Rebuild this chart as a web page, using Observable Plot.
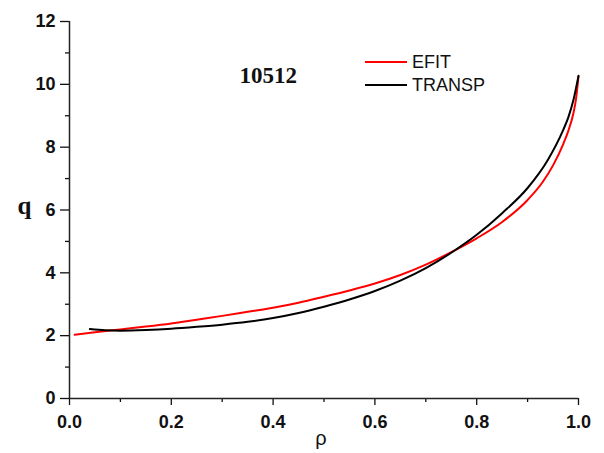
<!DOCTYPE html>
<html>
<head>
<meta charset="utf-8">
<script src="https://cdn.jsdelivr.net/npm/d3@7"></script>
<script src="https://cdn.jsdelivr.net/npm/@observablehq/plot@0.6"></script>
<style>
  html, body { margin: 0; padding: 0; background: #fff; }
</style>
</head>
<body>
<div id="chart"></div>
<script>
// EFIT (red) q-profile
const efitRho = [0.01, 0.05, 0.1, 0.15, 0.2, 0.25, 0.3, 0.35, 0.4, 0.45, 0.5, 0.55, 0.6, 0.65, 0.7, 0.75, 0.8, 0.85, 0.9, 0.93, 0.95, 0.97, 0.98, 0.99, 0.995, 1.0];
const efitQ   = [2.03, 2.11, 2.20, 2.29, 2.39, 2.51, 2.63, 2.76, 2.89, 3.05, 3.24, 3.44, 3.66, 3.93, 4.26, 4.66, 5.10, 5.62, 6.32, 6.90, 7.42, 8.10, 8.52, 9.08, 9.52, 10.25];
// TRANSP (black) q-profile
const transpRho = [0.04, 0.07, 0.1, 0.15, 0.2, 0.25, 0.3, 0.35, 0.4, 0.45, 0.5, 0.55, 0.6, 0.65, 0.7, 0.75, 0.8, 0.85, 0.9, 0.94, 0.97, 0.98, 0.99, 1.0];
const transpQ   = [2.21, 2.17, 2.16, 2.18, 2.22, 2.28, 2.35, 2.44, 2.56, 2.72, 2.92, 3.15, 3.42, 3.75, 4.15, 4.64, 5.21, 5.90, 6.70, 7.60, 8.55, 8.95, 9.50, 10.27];

const seriesNames = ["EFIT", "TRANSP"];
const seriesColors = ["#ff0000", "#000000"];
const xTicks = [0, 0.2, 0.4, 0.6, 0.8, 1.0];
const xMinorTicks = [0.1, 0.3, 0.5, 0.7, 0.9];
const yTicks = [0, 2, 4, 6, 8, 10, 12];
const yMinorTicks = [1, 3, 5, 7, 9, 11];
const titleText = "10512";
const xLabel = "ρ";
const yLabel = "q";

const efit = efitRho.map((r, i) => ({rho: r, q: efitQ[i], series: "EFIT"}));
const transp = transpRho.map((r, i) => ({rho: r, q: transpQ[i], series: "TRANSP"}));

const tickFont = {fontSize: 18, fontWeight: "bold", fill: "#111"};

const chart = Plot.plot({
  width: 604,
  height: 453,
  marginLeft: 69,
  marginRight: 26,
  marginTop: 21,
  marginBottom: 55,
  style: {fontFamily: "Arial, 'Liberation Sans', sans-serif", background: "#fff", color: "#111"},
  x: {domain: [0, 1]},
  y: {domain: [0, 12]},
  marks: [
    Plot.axisX({ticks: xTicks, tickSize: 7, tickPadding: 10, tickFormat: d3.format(".1f"), label: null, strokeWidth: 1.3, ...tickFont}),
    Plot.axisX({ticks: xMinorTicks, tickSize: 4, tickFormat: () => null, label: null, strokeWidth: 1.3}),
    Plot.axisY({ticks: yTicks, tickSize: 9, tickPadding: 5, tickFormat: d3.format("d"), label: null, strokeWidth: 1.3, ...tickFont}),
    Plot.axisY({ticks: yMinorTicks, tickSize: 4, tickFormat: () => null, label: null, strokeWidth: 1.3}),
    Plot.ruleX([0], {stroke: "#222", strokeWidth: 1.5}),
    Plot.ruleY([0], {stroke: "#222", strokeWidth: 1.5}),
    Plot.line(efit, {x: "rho", y: "q", stroke: seriesColors[0], strokeWidth: 2, curve: "monotone-x"}),
    Plot.line(transp, {x: "rho", y: "q", stroke: seriesColors[1], strokeWidth: 2, curve: "monotone-x"}),
    Plot.text([yLabel], {frameAnchor: "left", dx: -52, dy: -4, fontSize: 25, fontWeight: "bold", fontFamily: "'Liberation Serif', 'DejaVu Serif', serif", fill: "#111"}),
    Plot.text([xLabel], {frameAnchor: "bottom", dx: -3, dy: 46, fontSize: 20, fill: "#111"}),
    Plot.text([titleText], {frameAnchor: "top-left", dx: 170, dy: 54, textAnchor: "start", lineAnchor: "middle", fontSize: 23, fontWeight: "bold", fontFamily: "'Liberation Serif', 'Times New Roman', serif", fill: "#111"})
  ]
});

document.getElementById("chart").appendChild(chart);

// Legend drawn inside the plot area
const svg = d3.select(chart);
const legend = svg.append("g")
  .attr("font-family", "Arial, 'Liberation Sans', sans-serif")
  .attr("font-size", 18)
  .attr("text-anchor", "start");
seriesNames.forEach((name, i) => {
  const y = 62 + i * 23;
  legend.append("line").attr("x1", 365).attr("x2", 407).attr("y1", y).attr("y2", y)
    .attr("stroke", seriesColors[i]).attr("stroke-width", 2);
  legend.append("text").attr("x", 412).attr("y", y).attr("dy", "0.35em").attr("fill", "#111").text(name);
});
</script>
</body>
</html>
